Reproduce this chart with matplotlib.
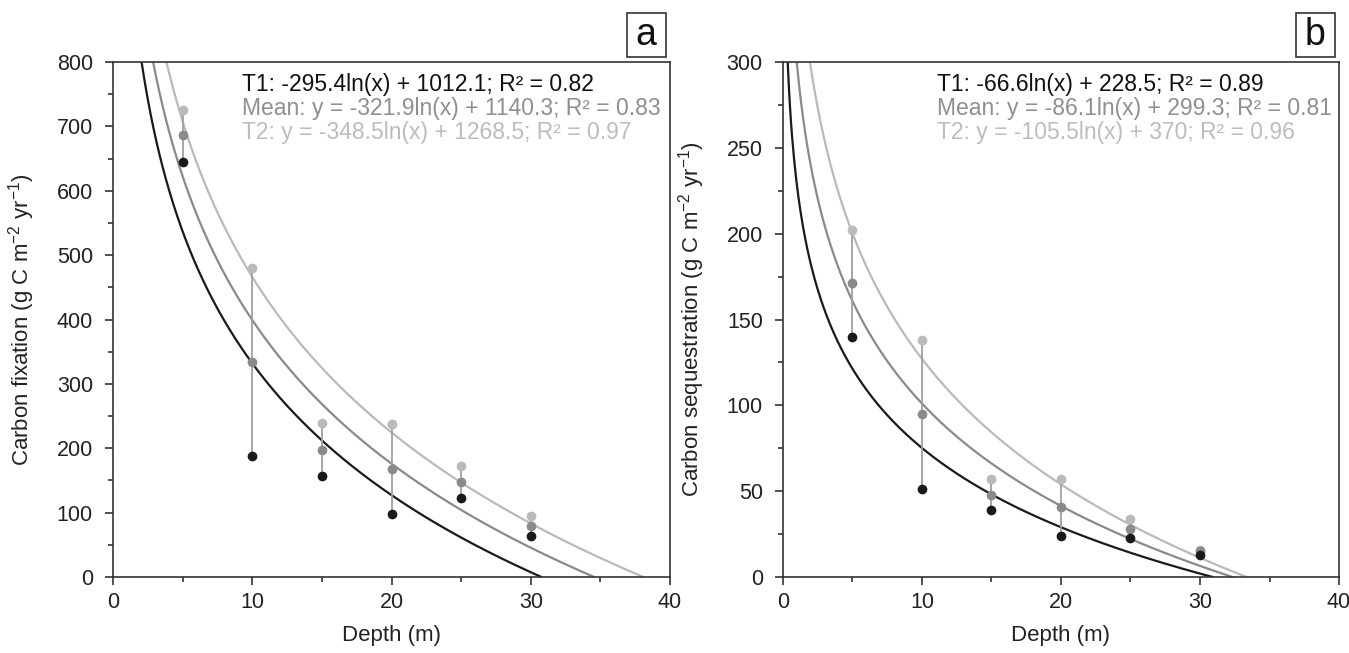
import numpy as np
import matplotlib
matplotlib.use("Agg")
import matplotlib.pyplot as plt
from matplotlib.patches import Rectangle
from matplotlib.ticker import MultipleLocator

plt.rcParams["font.family"] = ["Liberation Sans", "DejaVu Sans"]
plt.rcParams["mathtext.fontset"] = "custom"
plt.rcParams["mathtext.rm"] = "Liberation Sans"
plt.rcParams["mathtext.default"] = "regular"

depth = [5, 10, 15, 20, 25, 30]

# panel a: carbon fixation
fix_t1 = [645, 188, 157, 98, 122, 64]
fix_mean = [686, 334, 198, 168, 148, 79]
fix_t2 = [726, 480, 239, 238, 173, 95]
fix_fits = [(-295.4, 1012.1), (-321.9, 1140.3), (-348.5, 1268.5)]
fix_labels = ["T1: -295.4ln(x) + 1012.1; R\u00b2 = 0.82",
              "Mean: y = -321.9ln(x) + 1140.3; R\u00b2 = 0.83",
              "T2: y = -348.5ln(x) + 1268.5; R\u00b2 = 0.97"]

# panel b: carbon sequestration
seq_t1 = [140, 51, 39, 24, 23, 13]
seq_mean = [171, 95, 48, 41, 28, 15]
seq_t2 = [202, 138, 57, 57, 34, 16]
seq_fits = [(-66.6, 228.5), (-86.1, 299.3), (-105.5, 370.0)]
seq_labels = ["T1: -66.6ln(x) + 228.5; R\u00b2 = 0.89",
              "Mean: y = -86.1ln(x) + 299.3; R\u00b2 = 0.81",
              "T2: y = -105.5ln(x) + 370; R\u00b2 = 0.96"]

line_cols = ["#1a1a1a", "#8a8a8a", "#bababa"]
text_cols = ["#111111", "#8f8f8f", "#bdbdbd"]


def panel(ax, t1, mean, t2, fits, labels, ymax, ymaj, ymin, ylabel, letter, tx):
    for (a, b), c in zip(fits, line_cols):
        x0 = np.exp((ymax - b) / a)
        x1 = np.exp(-b / a)
        xs = np.linspace(x0, x1, 400)
        ax.plot(xs, a * np.log(xs) + b, color=c, lw=1.6, zorder=2)

    # vertical span T1 -> T2 at each depth
    for d, lo, hi in zip(depth, t1, t2):
        ax.plot([d, d], [lo, hi], color="#a0a0a0", lw=1.3, zorder=3)

    for vals, c in zip([t2, mean, t1], line_cols[::-1]):
        ax.plot(depth, vals, "o", color=c, ms=7, mec="none", zorder=4)

    ax.set_xlim(0, 40)
    ax.set_ylim(0, ymax)
    ax.xaxis.set_major_locator(MultipleLocator(10))
    ax.xaxis.set_minor_locator(MultipleLocator(5))
    ax.yaxis.set_major_locator(MultipleLocator(ymaj))
    ax.yaxis.set_minor_locator(MultipleLocator(ymin))
    ax.tick_params(which="both", direction="out", labelsize=15.5, color="#222",
                   labelcolor="#222")
    ax.tick_params(which="major", length=6, width=1.1)
    ax.tick_params(which="minor", length=3.5, width=1.1)
    ax.tick_params(axis="x", pad=4.5)
    ax.tick_params(axis="y", pad=8.5)
    for s in ax.spines.values():
        s.set_color("#333")
        s.set_linewidth(1.2)

    ax.set_xlabel("Depth (m)", fontsize=16, color="#222")
    ax.xaxis.set_label_coords(0.5, -0.093)
    ax.set_ylabel(ylabel, fontsize=16, color="#222")
    ax.yaxis.set_label_coords(-0.136, 0.5)

    for i, (lab, c) in enumerate(zip(labels, text_cols)):
        ax.text(tx, 0.957 - i * 0.047, lab, transform=ax.transAxes,
                color=c, fontsize=16.5, ha="left", va="center")

    ax.add_patch(Rectangle((0.922, 1.0097), 0.07, 0.0854, transform=ax.transAxes,
                           fc="white", ec="#333", lw=1.2, clip_on=False))
    ax.text(0.957, 1.052, letter, transform=ax.transAxes, ha="center",
            va="center", fontsize=27, color="#111")


fig = plt.figure(figsize=(13.49, 6.53), dpi=100)
ax1 = fig.add_axes([0.0838, 0.1164, 0.4129, 0.7886])
ax2 = fig.add_axes([0.5804, 0.1164, 0.4122, 0.7886])

panel(ax1, fix_t1, fix_mean, fix_t2, fix_fits, fix_labels, 800, 100, 50,
      "Carbon fixation (g C m$^{-2}$ yr$^{-1}$)", "a", 0.232)
panel(ax2, seq_t1, seq_mean, seq_t2, seq_fits, seq_labels, 300, 50, 25,
      "Carbon sequestration (g C m$^{-2}$ yr$^{-1}$)", "b", 0.277)

fig.savefig("out.png", dpi=100, facecolor="white")
plt.close(fig)
